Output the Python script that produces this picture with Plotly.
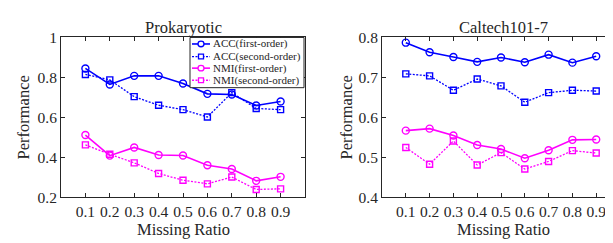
import plotly.graph_objects as go

x = [0.1, 0.2, 0.3, 0.4, 0.5, 0.6, 0.7, 0.8, 0.9]
xticklabels = ["0.1", "0.2", "0.3", "0.4", "0.5", "0.6", "0.7", "0.8", "0.9"]

# Prokaryotic
pro_acc1 = [0.845, 0.765, 0.808, 0.808, 0.770, 0.718, 0.715, 0.660, 0.680]
pro_acc2 = [0.815, 0.788, 0.704, 0.661, 0.639, 0.602, 0.724, 0.645, 0.639]
pro_nmi1 = [0.512, 0.409, 0.450, 0.412, 0.410, 0.361, 0.342, 0.283, 0.303]
pro_nmi2 = [0.463, 0.416, 0.373, 0.320, 0.286, 0.268, 0.302, 0.240, 0.243]

# Caltech101-7
cal_acc1 = [0.787, 0.763, 0.751, 0.739, 0.750, 0.738, 0.757, 0.737, 0.753]
cal_acc2 = [0.709, 0.704, 0.668, 0.696, 0.679, 0.638, 0.662, 0.668, 0.666]
cal_nmi1 = [0.567, 0.572, 0.555, 0.531, 0.521, 0.498, 0.518, 0.544, 0.545]
cal_nmi2 = [0.525, 0.483, 0.541, 0.481, 0.512, 0.471, 0.490, 0.517, 0.511]

names = ["ACC(first-order)", "ACC(second-order)", "NMI(first-order)", "NMI(second-order)"]
BLUE = "#0000ff"
MAG = "#ff00ff"
DOT = "2px,1.5px"
styles = [
    (BLUE, "solid", "circle-open", 7),
    (BLUE, DOT, "square-open", 6),
    (MAG, "solid", "circle-open", 7),
    (MAG, DOT, "square-open", 6),
]

FONT = "Liberation Serif"
TXT = "#262626"

fig = go.Figure()
for panel, series in enumerate([[pro_acc1, pro_acc2, pro_nmi1, pro_nmi2],
                                [cal_acc1, cal_acc2, cal_nmi1, cal_nmi2]]):
    xa = "x" if panel == 0 else "x2"
    ya = "y" if panel == 0 else "y2"
    for i, ys in enumerate(series):
        c, dash, sym, ms = styles[i]
        fig.add_trace(go.Scatter(
            x=x, y=ys, mode="lines+markers", name=names[i],
            line=dict(color=c, width=1.6 if dash == "solid" else 1.3, dash=dash),
            marker=dict(symbol=sym, size=ms, color=c, line=dict(width=1.4, color=c)),
            xaxis=xa, yaxis=ya, showlegend=False,
        ))

W, H = 613, 243
top_px, bot_px = 22, 194
ydom = [(H - bot_px) / H, (H - top_px) / H]

axis_common = dict(
    showline=True, linecolor=TXT, linewidth=1, mirror="allticks",
    ticks="inside", ticklen=4, tickcolor=TXT, showgrid=False, zeroline=False,
    tickfont=dict(family=FONT, size=15.5, color=TXT),
)

fig.update_layout(
    width=W, height=H,
    margin=dict(l=0, r=0, t=0, b=0),
    paper_bgcolor="white", plot_bgcolor="white",
    font=dict(family=FONT, color=TXT),
    xaxis=dict(domain=[53 / W, 297 / W], range=[0, 1], tickvals=x, ticktext=xticklabels,
               anchor="y", **axis_common),
    yaxis=dict(domain=ydom, range=[0.2, 1.0], tickvals=[0.2, 0.4, 0.6, 0.8, 1.0],
               ticktext=["0.2", "0.4", "0.6", "0.8", "1"], anchor="x", **axis_common),
    xaxis2=dict(domain=[374 / W, 612 / W], range=[0, 1], tickvals=x, ticktext=xticklabels,
                anchor="y2", **axis_common),
    yaxis2=dict(domain=ydom, range=[0.4, 0.8], tickvals=[0.4, 0.5, 0.6, 0.7, 0.8],
                ticktext=["0.4", "0.5", "0.6", "0.7", "0.8"], anchor="x2", **axis_common),
    showlegend=False,
)


def px_x(p):
    return p / W


def px_y(p):
    return 1 - p / H


# Compact MATLAB-style legend box (decoration, in paper pixels)
LX0, LX1, LY0, LY1 = 182, 296, 22, 76
fig.add_shape(type="rect", xref="paper", yref="paper",
              x0=px_x(LX0), x1=px_x(LX1), y0=px_y(LY1), y1=px_y(LY0),
              fillcolor="white", line=dict(color=TXT, width=1), layer="above")
row_y = [29, 42.5, 55, 68]
for i, name in enumerate(names):
    c, dash, sym, ms = styles[i]
    yy = row_y[i]
    fig.add_shape(type="line", xref="paper", yref="paper",
                  x0=px_x(184), x1=px_x(202), y0=px_y(yy), y1=px_y(yy),
                  line=dict(color=c, width=1.6 if dash == "solid" else 1.3, dash=dash),
                  layer="above")
    r = 3 if sym.startswith("circle") else 2.5
    fig.add_shape(type="circle" if sym.startswith("circle") else "rect",
                  xref="paper", yref="paper",
                  x0=px_x(193 - r), x1=px_x(193 + r), y0=px_y(yy + r), y1=px_y(yy - r),
                  fillcolor="white", line=dict(color=c, width=1.3), layer="above")
    fig.add_annotation(xref="paper", yref="paper", x=px_x(203), y=px_y(yy), text=name,
                       showarrow=False, xanchor="left", yanchor="middle",
                       font=dict(family=FONT, size=11, color=TXT))

ann = [
    dict(text="Prokaryotic", x=175 / W, y=1 - 11 / H),
    dict(text="Caltech101-7", x=495 / W, y=1 - 11 / H),
    dict(text="Missing Ratio", x=175 / W, y=1 - 229 / H),
    dict(text="Missing Ratio", x=495 / W, y=1 - 229 / H),
]
for a in ann:
    fig.add_annotation(xref="paper", yref="paper", x=a["x"], y=a["y"], text=a["text"],
                       showarrow=False, xanchor="center", yanchor="middle",
                       font=dict(family=FONT, size=16.5, color=TXT))
for xp in [15, 338]:
    fig.add_annotation(xref="paper", yref="paper", x=xp / W, y=1 - 108 / H, text="Performance",
                       textangle=-90, showarrow=False, xanchor="center", yanchor="middle",
                       font=dict(family=FONT, size=16.5, color=TXT))

fig.write_html("out.html")
